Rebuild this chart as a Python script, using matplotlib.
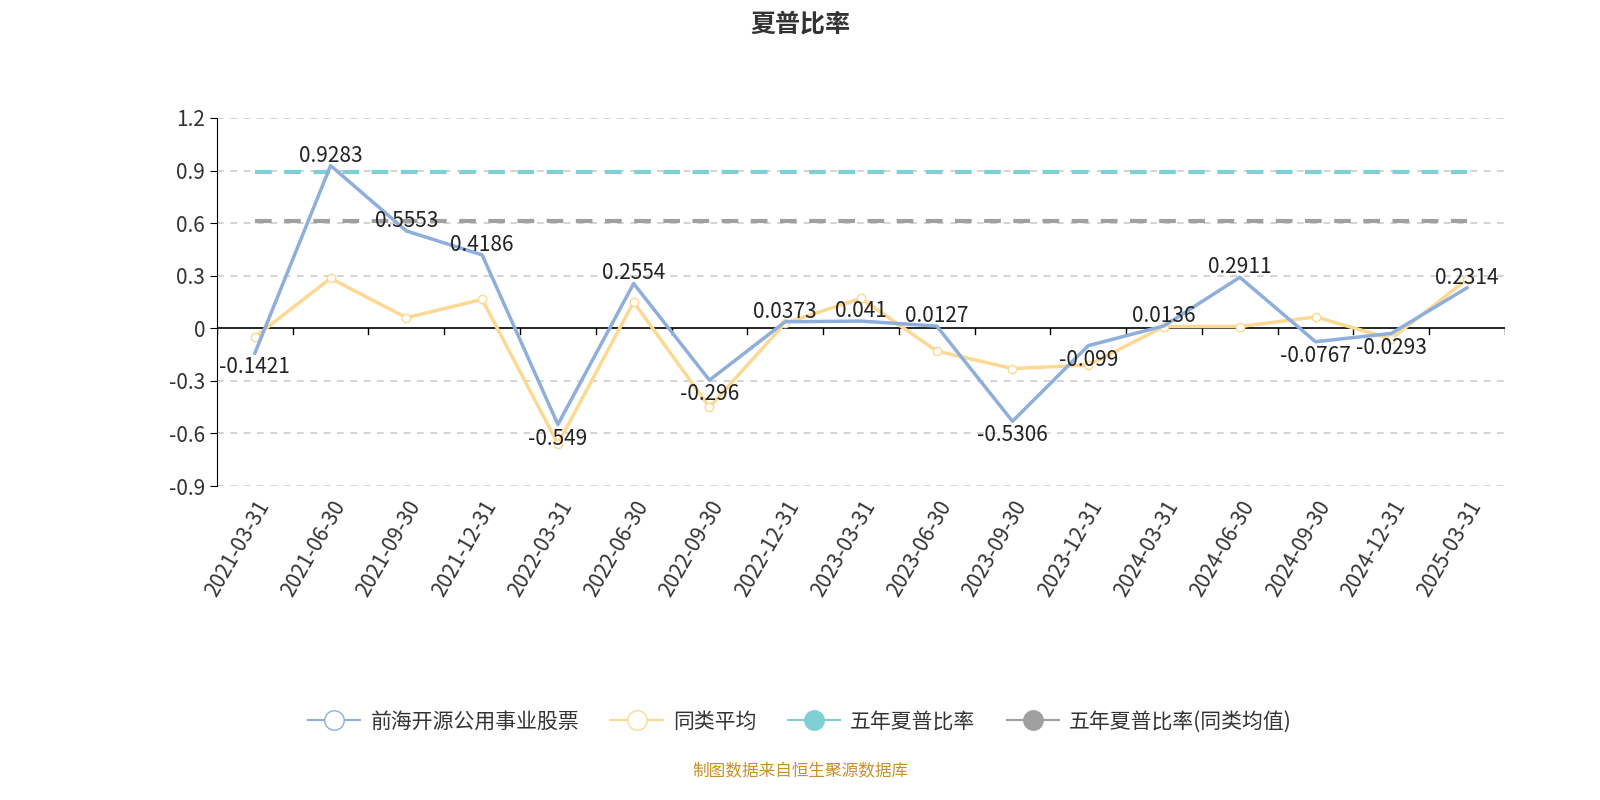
import matplotlib
matplotlib.use('Agg')
import matplotlib.pyplot as plt
import numpy as np

plt.rcParams['font.family'] = ['Noto Sans CJK SC', 'DejaVu Sans']

dates = ['2021-03-31', '2021-06-30', '2021-09-30', '2021-12-31', '2022-03-31', '2022-06-30',
         '2022-09-30', '2022-12-31', '2023-03-31', '2023-06-30', '2023-09-30', '2023-12-31',
         '2024-03-31', '2024-06-30', '2024-09-30', '2024-12-31', '2025-03-31']
fund = [-0.1421, 0.9283, 0.5553, 0.4186, -0.549, 0.2554, -0.296, 0.0373, 0.041, 0.0127,
        -0.5306, -0.099, 0.0136, 0.2911, -0.0767, -0.0293, 0.2314]
peer = [-0.05, 0.285, 0.06, 0.165, -0.66, 0.15, -0.45, 0.03, 0.17, -0.13,
        -0.23, -0.21, 0.01, 0.01, 0.065, -0.06, 0.28]
five_year = 0.89
five_year_peer = 0.61

fig = plt.figure(figsize=(16, 8), dpi=100)
ax = fig.add_axes([0.1356, 0.3925, 0.805, 0.46])
x = np.arange(len(dates))

ax.set_xlim(-0.5, len(dates) - 0.5)
ax.set_ylim(-0.9, 1.2)
yt = [-0.9, -0.6, -0.3, 0, 0.3, 0.6, 0.9, 1.2]
ax.set_yticks(yt)
ax.set_yticklabels(['0' if v == 0 else f'{v:g}' for v in yt], fontsize=15, color='#333333')
for v in yt:
    if v != 0:
        ax.axhline(v, color='#cccccc', ls=(0, (4, 4)), lw=1.2, zorder=0)
ax.axhline(0, color='black', lw=1.2, zorder=1)
for b in np.arange(-0.5, len(dates), 1):
    ax.plot([b, b], [0, -0.03], color='black', lw=1, zorder=1)

for s in ['top', 'right', 'bottom']:
    ax.spines[s].set_visible(False)
ax.spines['left'].set_color('black')
ax.tick_params(axis='x', length=0, pad=8)
ax.tick_params(axis='y', length=5)
ax.set_xticks(x)
ax.set_xticklabels(dates, rotation=60, ha='right', rotation_mode='anchor', fontsize=15, color='#333333')

ax.plot(x, [five_year] * len(x), color='#7fd0d4', lw=3, ls=(0, (4, 3)), zorder=2)
ax.plot(x, [five_year_peer] * len(x), color='#a0a0a0', lw=3, ls=(0, (4, 3)), zorder=2)
ax.plot(x, peer, color='#fcd992', lw=2.5, marker='o', ms=6, mfc='white', mec='#fcd992', zorder=3)
ax.plot(x, fund, color='#8eaedc', lw=2.5, zorder=4)

for xi, v in zip(x, fund):
    off = -14 if v < 0 else 10
    ax.text(xi, v + off / 174, f'{v:g}', ha='center', va='center', fontsize=15, color='#222222', zorder=5)

fig.text(0.5, 0.97, '夏普比率', ha='center', va='center', fontsize=18, fontweight='bold', color='#333333')

from matplotlib.lines import Line2D
handles = [
    Line2D([], [], color='#8eaedc', lw=1.5, marker='o', ms=14, mfc='white', mec='#8eaedc'),
    Line2D([], [], color='#fcd992', lw=1.5, marker='o', ms=14, mfc='white', mec='#fcd992'),
    Line2D([], [], color='#7fd0d4', lw=1.5, marker='o', ms=14, mfc='#7fd0d4', mec='#7fd0d4'),
    Line2D([], [], color='#a0a0a0', lw=1.5, marker='o', ms=14, mfc='#a0a0a0', mec='#a0a0a0'),
]
labels = ['前海开源公用事业股票', '同类平均', '五年夏普比率', '五年夏普比率(同类均值)']
fig.legend(handles, labels, loc='center', bbox_to_anchor=(0.5, 0.098), ncol=4, frameon=False,
           fontsize=15, handlelength=2.5, columnspacing=1.5, handletextpad=0.5, labelcolor='#333333')

fig.text(0.5, 0.035, '制图数据来自恒生聚源数据库', ha='center', va='center', fontsize=12, color='#c8902a')

fig.savefig('out.png', dpi=100)
